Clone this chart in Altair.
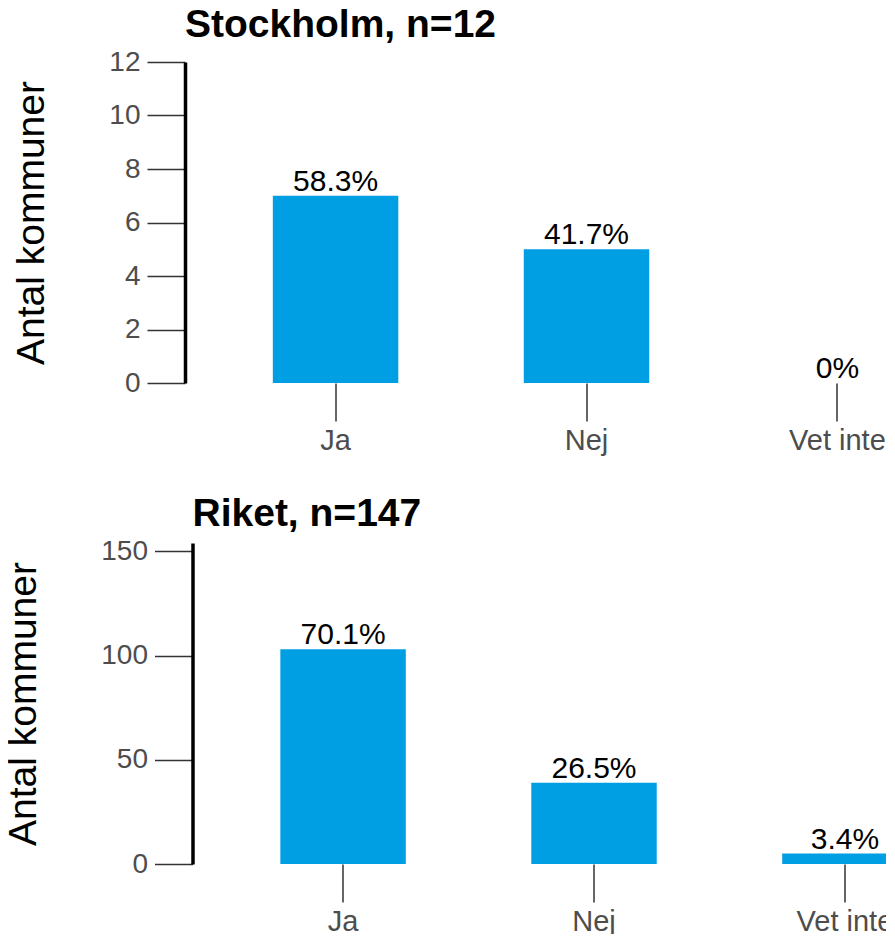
import altair as alt
import pandas as pd

categories = ["Ja", "Nej", "Vet inte"]
stockholm_counts = [7, 5, 0]
riket_counts = [103, 39, 5]
stockholm_n = 12
riket_n = 147
stockholm_ticks = [0, 2, 4, 6, 8, 10, 12]
riket_ticks = [0, 50, 100, 150]
stockholm_ymax = 12
riket_ymax = 154

FONT = "Liberation Sans"
BAR = "#009FE3"
PLOT_W = 803
PLOT_H = 321


def pct_label(c, n):
    if c == 0:
        return "0%"
    return f"{c / n * 100:.1f}%"


def panel(title, counts, n, ticks, ymax, shift=0.0):
    df = pd.DataFrame({
        "svar": categories,
        "antal": counts,
        "etikett": [pct_label(c, n) for c in counts],
    })
    base = alt.Chart(df)
    xscale = alt.Scale(paddingInner=0.5, paddingOuter=0.35,
                       range=[-shift, PLOT_W - shift])
    x = alt.X(
        "svar:N", sort=categories, title=None, scale=xscale,
        axis=alt.Axis(domain=False, ticks=True, tickSize=38, tickColor="#333333",
                      tickWidth=1.5, labelFont=FONT, labelFontSize=29,
                      labelColor="#4D4D4D", labelPadding=5, labelAngle=0, grid=False),
    )
    y = alt.Y(
        "antal:Q", title="Antal kommuner",
        scale=alt.Scale(domain=[0, ymax], nice=False, zero=True),
        axis=alt.Axis(values=ticks, grid=False, domain=True, domainColor="black",
                      domainWidth=3.5, tickSize=38, tickColor="#333333", tickWidth=1.5,
                      labelFont=FONT, labelFontSize=28, labelColor="#4D4D4D",
                      labelPadding=7, titleFont=FONT, titleFontSize=39,
                      titleFontWeight="normal", titleColor="black", titlePadding=57,
                      offset=shift),
    )
    bars = base.mark_bar(color=BAR).encode(x=x, y=y)
    text = base.mark_text(font=FONT, fontSize=30, color="black",
                          baseline="alphabetic", dy=-5).encode(
        x=alt.X("svar:N", sort=categories, scale=xscale),
        y=alt.Y("antal:Q"), text="etikett:N")
    return (bars + text).properties(
        width=PLOT_W, height=PLOT_H,
        title=alt.TitleParams(title, anchor="start", frame="group", font=FONT,
                              fontSize=39, fontWeight="bold", color="black",
                              offset=3, dx=-shift),
    )


top = panel(f"Stockholm, n={stockholm_n}", stockholm_counts, stockholm_n,
            stockholm_ticks, stockholm_ymax, shift=7.5)
bottom = panel(f"Riket, n={riket_n}", riket_counts, riket_n,
               riket_ticks, riket_ymax)

chart = alt.vconcat(top, bottom, spacing=40).properties(
    padding={"left": -3.5, "top": -2, "right": -110, "bottom": -2}
).configure_view(stroke=None)

chart.save("out.html", embed_options={"renderer": "svg", "actions": False})
